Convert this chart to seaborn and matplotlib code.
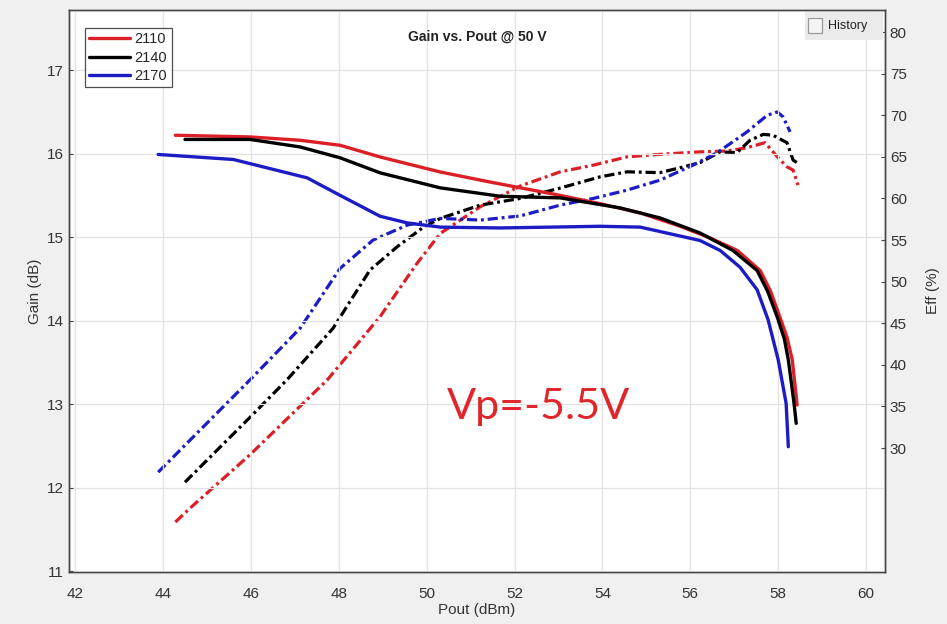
import matplotlib
matplotlib.use("Agg")
import matplotlib.pyplot as plt
import seaborn as sns
import pandas as pd
from matplotlib.patches import Rectangle

# ---------------- data ----------------
freqs = ["2110", "2140", "2170"]

pout_gain_2110 = [44.28, 45.98, 47.12, 48.03, 48.94, 50.31, 51.44, 53.04, 53.95, 54.86,
                  55.77, 56.45, 57.07, 57.59, 57.82, 58.04, 58.20, 58.32, 58.43]
gain_2110 = [16.22, 16.20, 16.16, 16.10, 15.96, 15.78, 15.66, 15.50, 15.40, 15.29,
             15.13, 14.99, 14.84, 14.60, 14.36, 14.04, 13.80, 13.53, 12.99]

pout_gain_2140 = [44.50, 45.98, 47.12, 48.03, 48.94, 50.31, 51.67, 53.04, 54.40, 55.31,
                  56.22, 56.97, 57.52, 57.76, 57.98, 58.14, 58.23, 58.36, 58.41]
gain_2140 = [16.17, 16.17, 16.08, 15.95, 15.77, 15.59, 15.49, 15.47, 15.35, 15.23,
             15.05, 14.84, 14.60, 14.35, 14.04, 13.78, 13.53, 13.01, 12.77]

pout_gain_2170 = [43.89, 45.60, 47.28, 48.03, 48.94, 49.56, 50.31, 51.67, 53.95, 54.86,
                  56.22, 56.68, 57.13, 57.52, 57.77, 58.00, 58.18, 58.23]
gain_2170 = [15.99, 15.93, 15.71, 15.50, 15.25, 15.17, 15.12, 15.11, 15.13, 15.12,
             14.96, 14.84, 14.64, 14.37, 14.01, 13.53, 13.01, 12.49]

pout_eff_2110 = [44.28, 44.62, 45.98, 47.74, 48.94, 49.78, 50.31, 51.22, 52.13, 53.04,
                 53.79, 54.56, 55.31, 56.22, 56.84, 57.29, 57.70, 57.98, 58.20, 58.34, 58.45]
eff_2110 = [21.1, 22.8, 29.2, 38.2, 45.8, 52.2, 55.8, 59.0, 61.5, 63.2,
            64.0, 65.0, 65.3, 65.6, 65.7, 66.1, 66.7, 65.0, 63.8, 63.4, 61.6]

pout_eff_2140 = [44.50, 45.98, 46.82, 47.87, 48.71, 49.33, 49.94, 50.31, 51.22, 52.13,
                 53.04, 53.95, 54.56, 55.31, 55.77, 56.22, 56.68, 57.06, 57.36, 57.66,
                 57.88, 58.20, 58.34, 58.43]
eff_2140 = [25.9, 33.7, 38.2, 44.4, 51.4, 54.2, 56.6, 57.6, 59.2, 60.0,
            61.25, 62.6, 63.2, 63.1, 63.7, 64.3, 65.6, 65.5, 67.0, 67.7,
            67.6, 66.7, 64.6, 64.3]

pout_eff_2170 = [43.89, 45.98, 47.12, 48.03, 48.78, 49.56, 50.31, 51.22, 52.13, 53.04,
                 53.79, 54.56, 55.31, 56.06, 56.61, 57.29, 57.75, 57.98, 58.11, 58.27]
eff_2170 = [27.1, 38.2, 44.4, 51.6, 55.0, 56.8, 57.6, 57.4, 57.9, 59.2,
            60.0, 61.0, 62.2, 64.0, 65.5, 68.0, 70.0, 70.4, 69.8, 68.0]

x_ticks = [42, 44, 46, 48, 50, 52, 54, 56, 58, 60]
gain_ticks = [11, 12, 13, 14, 15, 16, 17]
eff_ticks = [30, 35, 40, 45, 50, 55, 60, 65, 70, 75, 80]

colors = {"2110": "#dc1f26", "2140": "#000000", "2170": "#1c1cc4"}

gain_df = pd.concat([
    pd.DataFrame({"pout": pout_gain_2110, "val": gain_2110, "f": "2110"}),
    pd.DataFrame({"pout": pout_gain_2140, "val": gain_2140, "f": "2140"}),
    pd.DataFrame({"pout": pout_gain_2170, "val": gain_2170, "f": "2170"}),
])
eff_df = pd.concat([
    pd.DataFrame({"pout": pout_eff_2110, "val": eff_2110, "f": "2110"}),
    pd.DataFrame({"pout": pout_eff_2140, "val": eff_2140, "f": "2140"}),
    pd.DataFrame({"pout": pout_eff_2170, "val": eff_2170, "f": "2170"}),
])

# ---------------- style ----------------
sns.set_theme(style="white")
plt.rcParams["font.family"] = ["Liberation Sans", "DejaVu Sans"]
txt_col = "#333333"

fig = plt.figure(figsize=(9.47, 6.24), dpi=100, facecolor="#f0f0f0")
ax = fig.add_axes([69 / 947, 52 / 624, 816 / 947, 562 / 624])
ax.set_facecolor("white")
ax2 = ax.twinx()

dashdot = (0, (3.2, 1.2, 0.9, 1.2))
for f in freqs:
    sns.lineplot(data=eff_df[eff_df.f == f], x="pout", y="val", ax=ax2,
                 color=colors[f], linewidth=2.3, linestyle=dashdot,
                 estimator=None, sort=False, legend=False)
for f in freqs:
    sns.lineplot(data=gain_df[gain_df.f == f], x="pout", y="val", ax=ax,
                 color=colors[f], linewidth=2.4, estimator=None, sort=False,
                 label=f, legend=False)

ax.set_xlim(41.86, 60.43)
ax.set_ylim(10.99, 17.72)
ax2.set_ylim(15.10, 82.65)
ax.set_xticks(x_ticks)
ax.set_yticks(gain_ticks)
ax2.set_yticks(eff_ticks)
ax.grid(True, color="#e2e2e2", linewidth=0.9)
ax2.grid(False)

for a in (ax, ax2):
    for s in a.spines.values():
        s.set_color("#444444")
        s.set_linewidth(1.0)
    a.tick_params(direction="in", length=3, width=0.8, colors="#444444",
                  labelcolor=txt_col, labelsize=11)
ax.tick_params(axis="x", pad=11)

ax.set_xlabel("Pout (dBm)", fontsize=11, color=txt_col, labelpad=1)
ax.set_ylabel("Gain (dB)", fontsize=11, color=txt_col, labelpad=4)
ax2.set_ylabel("Eff (%)", fontsize=11, color=txt_col, labelpad=14, rotation=90)

ax.text(0.5, 0.952, "Gain vs. Pout @ 50 V", transform=ax.transAxes, ha="center",
        va="center", fontsize=10, fontweight="bold", color="#222222")

leg = ax.legend(loc="upper left", bbox_to_anchor=(0.0196, 0.968), borderaxespad=0,
                fontsize=10.5, frameon=True, fancybox=False, handlelength=2.8,
                handletextpad=0.3, borderpad=0.3, labelspacing=0.3)
leg.get_frame().set_edgecolor("#222222")
leg.get_frame().set_linewidth(0.9)
ax.set_zorder(ax2.get_zorder() + 1)
ax.patch.set_visible(False)
ax2.patch.set_visible(True)
ax2.patch.set_facecolor("white")

ax.text(0.463, 0.294, "Vp=-5.5V", transform=ax.transAxes, ha="left", va="center",
        fontsize=31, color="#e0262b", family=["Lato", "DejaVu Sans"])

# "History" toggle box
fig.patches.append(Rectangle((805 / 947, 1 - 40 / 624), 78 / 947, 28 / 624,
                             transform=fig.transFigure, facecolor="#ebebeb",
                             edgecolor="none", zorder=5))
fig.patches.append(Rectangle((808 / 947, 1 - 33 / 624), 14 / 947, 15 / 624,
                             transform=fig.transFigure, facecolor="#f4f4f4",
                             edgecolor="#9a9a9a", linewidth=0.9, zorder=6))
fig.text(828 / 947, 1 - 26 / 624, "History", fontsize=9, color="#222222",
         va="center", ha="left", zorder=7)

fig.savefig("out.png", dpi=100, facecolor=fig.get_facecolor())
